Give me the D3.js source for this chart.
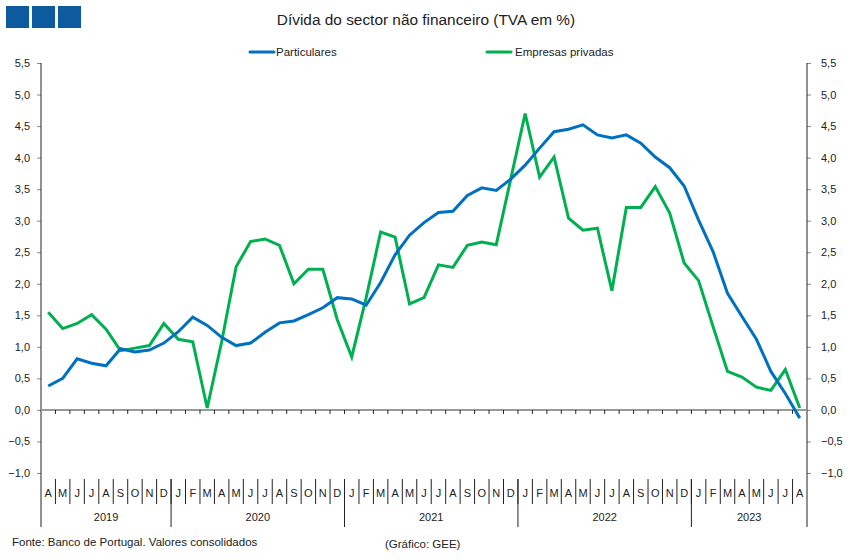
<!DOCTYPE html>
<html><head><meta charset="utf-8">
<script src="https://cdn.jsdelivr.net/npm/d3@7"></script>
<style>body{margin:0;background:#fff}svg{display:block;font-family:"Liberation Sans",Arial,sans-serif}</style>
</head><body><svg id="c" width="850" height="560"></svg>
<script>
const months = ["A","M","J","J","A","S","O","N","D",
 "J","F","M","A","M","J","J","A","S","O","N","D",
 "J","F","M","A","M","J","J","A","S","O","N","D",
 "J","F","M","A","M","J","J","A","S","O","N","D",
 "J","F","M","A","M","J","J","A"];
const years = [{label:"2019",start:0,end:9},{label:"2020",start:9,end:21},{label:"2021",start:21,end:33},{label:"2022",start:33,end:45},{label:"2023",start:45,end:53}];
const particulares = [0.38,0.50,0.81,0.74,0.70,0.97,0.92,0.95,1.06,
 1.24,1.47,1.34,1.15,1.02,1.06,1.23,1.38,1.41,1.51,1.62,1.78,
 1.76,1.66,2.02,2.46,2.77,2.97,3.13,3.15,3.40,3.52,3.48,3.66,
 3.88,4.15,4.41,4.45,4.52,4.36,4.31,4.36,4.23,4.01,3.84,3.55,
 3.01,2.51,1.85,1.48,1.12,0.61,0.26,-0.13];
const empresas = [1.55,1.29,1.37,1.51,1.28,0.94,0.98,1.02,1.37,
 1.12,1.08,0.03,1.08,2.27,2.67,2.71,2.61,2.00,2.23,2.23,1.43,
 0.84,1.78,2.82,2.74,1.68,1.78,2.30,2.26,2.61,2.66,2.62,3.66,
 4.70,3.69,4.01,3.04,2.85,2.88,1.89,3.21,3.21,3.54,3.12,2.33,
 2.05,1.32,0.61,0.52,0.36,0.31,0.64,0.03];
const yTicks = [-1,-0.5,0,0.5,1,1.5,2,2.5,3,3.5,4,4.5,5,5.5];
const seriesNames = ["Particulares","Empresas privadas"];
const colors = ["#0070C0","#00B050"];

const svg = d3.select("#c");
const L = 41, R = 807, T = 63, B = 473, bottom = 527;
const x = d3.scaleBand().domain(d3.range(months.length)).range([L,R]).padding(0);
const y = d3.scaleLinear().domain([-1,5.5]).range([B,T]);
const fmt = d => d3.format(".1f")(d).replace(".",",");

// logo
svg.selectAll("rect.logo").data([0,1,2]).enter().append("rect")
 .attr("x",d=>6+d*26).attr("y",6).attr("width",23).attr("height",22).attr("fill","#0D5A9E");

svg.append("text").attr("x",426).attr("y",25).attr("text-anchor","middle")
 .attr("font-size",15.4).attr("fill","#222").text("Dívida do sector não financeiro (TVA em %)");

// legend
const lg = [{x:250,tx:276},{x:487,tx:515}];
seriesNames.forEach((n,i)=>{
  svg.append("line").attr("x1",lg[i].x).attr("x2",lg[i].x+24).attr("y1",52).attr("y2",52)
   .attr("stroke",colors[i]).attr("stroke-width",3).attr("stroke-linecap","round");
  svg.append("text").attr("x",lg[i].tx).attr("y",56).attr("font-size",11.5).attr("fill","#222").text(n);
});

// y axes
const yl = svg.append("g").attr("transform",`translate(${L},0)`)
 .call(d3.axisLeft(y).tickValues(yTicks).tickFormat(fmt).tickSize(4).tickSizeOuter(0));
const yr = svg.append("g").attr("transform",`translate(${R},0)`)
 .call(d3.axisRight(y).tickValues(yTicks).tickFormat(fmt).tickSize(4).tickSizeOuter(0));
[yl,yr].forEach(g=>{
  g.select(".domain").remove();
  g.selectAll(".tick line").attr("stroke","#888");
  g.selectAll(".tick text").attr("font-size",11).attr("fill","#222").attr("font-family","Liberation Sans, Arial, sans-serif");
});
yl.selectAll(".tick text").attr("x",-11);
yr.selectAll(".tick text").attr("x",14);
[L,R].forEach(px=>svg.append("line").attr("x1",px).attr("x2",px).attr("y1",T).attr("y2",bottom).attr("stroke","#222").attr("stroke-width",1));

// zero axis with category ticks
const xa = svg.append("g").attr("transform",`translate(0,${y(0)})`)
 .call(d3.axisBottom(x).tickValues(d3.range(1,months.length)).tickFormat("").tickSize(4).tickSizeOuter(0)
   .offset(0));
xa.select(".domain").attr("stroke","#999").attr("stroke-width",2);
xa.selectAll(".tick line").attr("stroke","#222").attr("transform",`translate(${-x.bandwidth()/2},0)`);

// month labels + separators
const bw = x.bandwidth();
svg.selectAll("text.m").data(months).enter().append("text").attr("class","m")
 .attr("x",(d,i)=>x(i)+bw/2).attr("y",497).attr("text-anchor","middle").attr("font-size",11).attr("fill","#222").text(d=>d);
svg.selectAll("line.ms").data(d3.range(1,months.length)).enter().append("line").attr("class","ms")
 .attr("x1",d=>x(d)).attr("x2",d=>x(d)).attr("y1",479).attr("y2",504).attr("stroke","#222");
svg.selectAll("line.ys").data(years.slice(1)).enter().append("line").attr("class","ys")
 .attr("x1",d=>x(d.start)).attr("x2",d=>x(d.start)).attr("y1",479).attr("y2",bottom).attr("stroke","#222");
svg.selectAll("text.yr").data(years).enter().append("text").attr("class","yr")
 .attr("x",d=>(x(d.start)+(d.end<months.length?x(d.end):R))/2).attr("y",521).attr("text-anchor","middle")
 .attr("font-size",11).attr("fill","#222").text(d=>d.label);

// lines
const line = d3.line().x((d,i)=>x(i)+bw/2).y(d=>y(d));
[empresas,particulares].forEach((s,k)=>{
  const ci = k===0?1:0;
  svg.append("path").datum(s).attr("d",line).attr("fill","none").attr("stroke",colors[ci])
   .attr("stroke-width",3).attr("stroke-linejoin","miter");
});

svg.append("text").attr("x",12).attr("y",546).attr("font-size",11.5).attr("fill","#222").text("Fonte: Banco de Portugal. Valores consolidados");
svg.append("text").attr("x",385).attr("y",548).attr("font-size",11.5).attr("fill","#222").text("(Gráfico: GEE)");
</script></body></html>
